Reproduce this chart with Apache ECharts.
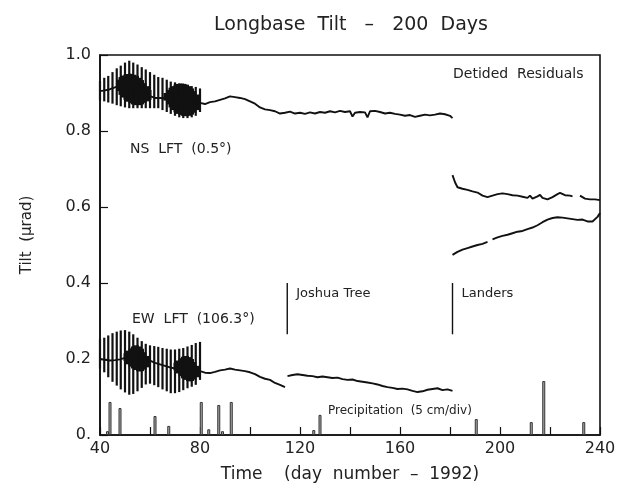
<!DOCTYPE html>
<html><head><meta charset="utf-8">
<script src="https://cdn.jsdelivr.net/npm/echarts@6/dist/echarts.min.js"></script>
<style>html,body{margin:0;padding:0;background:#fff}#c{width:620px;height:489px}</style>
</head><body><div id="c"></div>
<script>
// ---- data ----
const xTicks = [40, 80, 120, 160, 200, 240];
const yTicks = [0, 0.2, 0.4, 0.6, 0.8, 1.0];

// NS LFT before Landers
const nsPreDays = [40,42,44,46,48,50,52,54,56,58,60,62,64,66,68,70,72,74,76,78,80,82,84,86,88,90,92,94,96,98,100,102,104,106,108,110,112,114,116,118,120,122,124,126,128,130,132,134,136,138,140,141,142,144,146,147,148,150,152,154,156,158,160,162,164,166,168,170,172,174,176,178,180,181];
const nsPreVals = [0.905,0.907,0.910,0.915,0.920,0.925,0.926,0.922,0.915,0.903,0.892,0.887,0.887,0.886,0.884,0.880,0.878,0.878,0.877,0.876,0.874,0.871,0.876,0.878,0.882,0.886,0.891,0.889,0.887,0.884,0.878,0.872,0.862,0.857,0.855,0.852,0.846,0.848,0.851,0.846,0.848,0.845,0.849,0.846,0.850,0.848,0.852,0.849,0.853,0.850,0.852,0.838,0.848,0.850,0.849,0.836,0.852,0.853,0.850,0.846,0.848,0.845,0.843,0.840,0.842,0.837,0.840,0.843,0.841,0.843,0.846,0.844,0.840,0.834];
// NS LFT after Landers (null = gap)
const nsPostDays = [181,182,183,185,187,189,191,193,195,197,199,201,203,205,207,209,211,212,213,215,216,217,219,221,223,224,226,228,229,230.5,232,234,236,238,240];
const nsPostVals = [0.684,0.665,0.652,0.648,0.645,0.641,0.638,0.630,0.626,0.630,0.634,0.636,0.634,0.631,0.630,0.627,0.624,0.630,0.622,0.628,0.632,0.624,0.620,0.626,0.634,0.637,0.631,0.630,0.628,null,0.630,0.622,0.620,0.620,0.618];
// EW LFT before Landers
const ewPreDays = [40,42,44,46,48,50,52,54,56,58,60,62,64,66,68,70,72,74,76,78,80,82,84,86,88,90,92,94,96,98,100,102,104,106,108,110,112,114,114.5,115,117,119,121,123,125,127,129,131,133,135,137,139,141,143,145,147,149,151,153,155,157,159,161,163,165,167,169,171,173,175,177,179,181];
const ewPreVals = [0.200,0.198,0.196,0.197,0.199,0.203,0.208,0.211,0.210,0.204,0.196,0.190,0.186,0.182,0.178,0.175,0.173,0.171,0.170,0.168,0.168,0.164,0.163,0.166,0.170,0.172,0.175,0.172,0.170,0.168,0.165,0.160,0.153,0.148,0.145,0.137,0.132,0.126,null,0.155,0.158,0.160,0.158,0.156,0.155,0.152,0.154,0.152,0.150,0.151,0.147,0.145,0.146,0.142,0.140,0.138,0.136,0.133,0.129,0.126,0.124,0.121,0.122,0.120,0.116,0.113,0.115,0.119,0.121,0.123,0.118,0.120,0.116];
// EW LFT after Landers
const ewPostDays = [181,183,185,187,189,191,193,195,196,197,199,201,203,205,207,209,211,213,215,217,219,221,223,225,227,229,231,233,235,237,239,240];
const ewPostVals = [0.474,0.482,0.488,0.492,0.496,0.500,0.503,0.508,null,0.515,0.520,0.524,0.527,0.531,0.535,0.537,0.542,0.546,0.552,0.560,0.567,0.571,0.573,0.572,0.570,0.568,0.566,0.567,0.562,0.562,0.574,0.584];

// tidal swing (before tides removed), days 40..80
const oscDays = [40,41.7,43.3,45,46.7,48.3,50,51.7,53.3,55,56.7,58.3,60,61.7,63.3,65,66.7,68.3,70,71.7,73.3,75,76.7,78.3,80];
const nsOscHi = [0.932,0.940,0.945,0.955,0.965,0.972,0.980,0.985,0.980,0.975,0.968,0.962,0.955,0.948,0.942,0.940,0.935,0.930,0.928,0.925,0.922,0.920,0.918,0.916,0.912];
const nsOscLo = [0.880,0.878,0.875,0.872,0.868,0.865,0.862,0.860,0.860,0.860,0.860,0.860,0.860,0.860,0.860,0.855,0.850,0.845,0.840,0.836,0.834,0.834,0.836,0.840,0.850];
const ewOscHi = [0.252,0.256,0.262,0.268,0.272,0.275,0.276,0.272,0.265,0.256,0.247,0.240,0.236,0.234,0.232,0.229,0.227,0.225,0.225,0.227,0.229,0.233,0.237,0.242,0.245];
const ewOscLo = [0.175,0.165,0.152,0.140,0.130,0.120,0.112,0.106,0.108,0.115,0.124,0.133,0.135,0.131,0.126,0.120,0.115,0.110,0.110,0.113,0.118,0.123,0.127,0.132,0.145];
// dense cores of the tidal swing
const nsCoreDays = [47,48,49,50,51,52,53,54,55,56,57,58,59,60,66,67,68,69,70,71,72,73,74,75,76,77,78,79];
const nsCoreHi = [0.935,0.942,0.946,0.949,0.950,0.951,0.950,0.948,0.945,0.940,0.934,0.926,0.918,0.908,0.900,0.908,0.914,0.918,0.922,0.924,0.925,0.925,0.924,0.922,0.918,0.912,0.905,0.896];
const nsCoreLo = [0.905,0.895,0.888,0.882,0.877,0.873,0.870,0.868,0.868,0.868,0.870,0.874,0.878,0.882,0.880,0.870,0.862,0.855,0.849,0.845,0.842,0.840,0.839,0.839,0.840,0.843,0.848,0.855];
const ewCoreDays = [50,51,52,53,54,55,56,57,58,59,70,71,72,73,74,75,76,77,78,79];
const ewCoreHi = [0.215,0.222,0.228,0.233,0.236,0.236,0.233,0.227,0.218,0.208,0.190,0.196,0.202,0.206,0.208,0.208,0.205,0.200,0.192,0.182];
const ewCoreLo = [0.195,0.186,0.180,0.175,0.171,0.168,0.167,0.168,0.172,0.178,0.170,0.162,0.155,0.149,0.145,0.142,0.141,0.142,0.146,0.152];

// precipitation (plotted in tilt units, 5 cm/div)
const precipDays = [43,44,48,62,67.5,80.5,83.5,87.5,89,92.5,125.5,128,190.5,212.5,217.5,233.5];
const precipVals = [0.010,0.087,0.071,0.050,0.024,0.087,0.015,0.079,0.010,0.087,0.013,0.053,0.042,0.034,0.142,0.034];

// earthquakes
const eventNames = ['Joshua Tree', 'Landers'];
const eventDays = [114.9, 181];
const eventLo = 0.265, eventHi = 0.40;

// ---- chart ----
const FONT = 'DejaVu Sans';
const pairs = (xs, ys) => xs.map((x, i) => [x, ys[i] == null ? '-' : ys[i]]);
const trip = (xs, lo, hi) => xs.map((x, i) => [x, lo[i], hi[i]]);

function vbar(width) {
  return function (params, api) {
    const p1 = api.coord([api.value(0), api.value(1)]);
    const p2 = api.coord([api.value(0), api.value(2)]);
    return { type: 'line', shape: { x1: p1[0], y1: p1[1], x2: p2[0], y2: p2[1] },
      style: { stroke: '#111', lineWidth: width } };
  };
}
const lineStyle = { color: '#111', width: 1.9 };
function lineSeries(data) {
  return { type: 'line', data, showSymbol: false, symbol: 'none', lineStyle, connectNulls: false, silent: true, z: 3 };
}

const chart = echarts.init(document.getElementById('c'), null, { renderer: 'canvas' });
chart.setOption({
  animation: false,
  backgroundColor: '#fff',
  title: { text: 'Longbase  Tilt   –   200  Days', left: 346, top: 11, textAlign: 'center',
    textStyle: { fontFamily: FONT, fontSize: 19, fontWeight: 'normal', color: '#222' } },
  grid: { left: 100, right: 20, top: 55, bottom: 54, show: true, borderColor: '#111', borderWidth: 1.6, backgroundColor: 'transparent' },
  xAxis: {
    type: 'value', min: 40, max: 240, interval: 20,
    name: 'Time    (day  number  –  1992)', nameLocation: 'middle', nameGap: 31,
    nameTextStyle: { fontFamily: FONT, fontSize: 17, color: '#222' },
    axisLine: { lineStyle: { color: '#111', width: 1.6 } },
    axisTick: { inside: true, length: 8, lineStyle: { color: '#111', width: 1.2 } },
    splitLine: { show: false },
    axisLabel: { fontFamily: FONT, fontSize: 16, color: '#222', margin: 6,
      formatter: v => xTicks.includes(v) ? String(v) : '' }
  },
  yAxis: {
    type: 'value', min: 0, max: 1, interval: 0.2,
    axisLine: { lineStyle: { color: '#111', width: 1.6 } },
    axisTick: { inside: true, length: 8, lineStyle: { color: '#111', width: 1.2 } },
    splitLine: { show: false },
    axisLabel: { fontFamily: FONT, fontSize: 16, color: '#222', margin: 9,
      formatter: v => { const t = yTicks.find(k => Math.abs(k - v) < 1e-6); return t === 0 ? '0.' : t.toFixed(1); } }
  },
  series: [
    { type: 'bar', data: pairs(precipDays, precipVals), barWidth: 3, silent: true,
      itemStyle: { color: '#aaa', borderColor: '#333', borderWidth: 1 }, z: 2 },
    { type: 'custom', data: trip(oscDays, nsOscLo, nsOscHi), renderItem: vbar(2.2), encode: { x: 0, y: [1, 2] }, silent: true, z: 3 },
    { type: 'custom', data: trip(oscDays, ewOscLo, ewOscHi), renderItem: vbar(2.2), encode: { x: 0, y: [1, 2] }, silent: true, z: 3 },
    { type: 'custom', data: trip(nsCoreDays, nsCoreLo, nsCoreHi), renderItem: vbar(3), encode: { x: 0, y: [1, 2] }, silent: true, z: 3 },
    { type: 'custom', data: trip(ewCoreDays, ewCoreLo, ewCoreHi), renderItem: vbar(3), encode: { x: 0, y: [1, 2] }, silent: true, z: 3 },
    lineSeries(pairs(nsPreDays, nsPreVals)),
    lineSeries(pairs(nsPostDays, nsPostVals)),
    lineSeries(pairs(ewPreDays, ewPreVals)),
    lineSeries(pairs(ewPostDays, ewPostVals)),
    { type: 'custom', silent: true, z: 4,
      data: eventDays.map((d, i) => [d, eventLo, eventHi, i]),
      encode: { x: 0, y: [1, 2] },
      renderItem: function (params, api) {
        const p1 = api.coord([api.value(0), api.value(1)]);
        const p2 = api.coord([api.value(0), api.value(2)]);
        return { type: 'group', children: [
          { type: 'line', shape: { x1: p1[0], y1: p1[1], x2: p2[0], y2: p2[1] }, style: { stroke: '#111', lineWidth: 1.4 } },
          { type: 'text', x: p2[0] + 9, y: p2[1] + 4, style: { text: eventNames[api.value(3)], fontFamily: FONT, fontSize: 13, fill: '#222', textVerticalAlign: 'top' } }
        ] };
      } }
  ],
  graphic: [
    { type: 'text', x: 27, y: 235, rotation: Math.PI / 2,
      style: { text: 'Tilt  (μrad)', fontFamily: FONT, fontSize: 15, fill: '#222', textAlign: 'center', textVerticalAlign: 'middle' } },
    { type: 'text', left: 453, top: 67, style: { text: 'Detided  Residuals', fontFamily: FONT, fontSize: 14, fill: '#222' } },
    { type: 'text', left: 130, top: 142, style: { text: 'NS  LFT  (0.5°)', fontFamily: FONT, fontSize: 14, fill: '#222' } },
    { type: 'text', left: 132, top: 312, style: { text: 'EW  LFT  (106.3°)', fontFamily: FONT, fontSize: 14, fill: '#222' } },
    { type: 'text', left: 328, top: 405, style: { text: 'Precipitation  (5 cm/div)', fontFamily: FONT, fontSize: 12, fill: '#222' } }
  ]
});
</script></body></html>
